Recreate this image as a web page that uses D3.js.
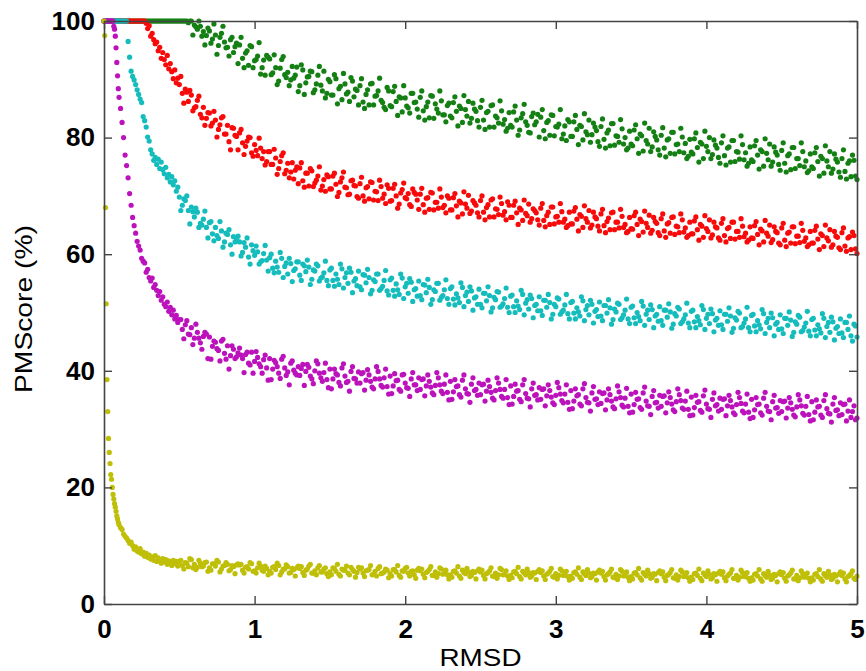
<!DOCTYPE html>
<html>
<head>
<meta charset="utf-8">
<script src="https://d3js.org/d3.v7.min.js"></script>
<style>
  html, body { margin: 0; padding: 0; background: #fff; }
  svg { display: block; }
  text { font-family: Arial, "Liberation Sans", Helvetica, sans-serif; }
</style>
</head>
<body>
<svg id="chart" width="866" height="671"></svg>
<script>
// ---------- data ----------
// sampling grid A of RMSD values (x)
const rmsd = [
  ...d3.range(0, 20).map(i => i * 0.005),
  ...d3.range(10, 50).map(i => i / 100),
  ...d3.range(25, 251).map(i => i / 50)
];
// sampling grid B (in-between samples, 0.51 .. 4.99)
const rmsdB = d3.range(51, 500, 2).map(i => i / 100);

const xTicks = [0, 1, 2, 3, 4, 5];
const yTicks = [0, 20, 40, 60, 80, 100];
const xLabel = "RMSD";
const yLabel = "PMScore (%)";

const pmGreen = [
  100,100,100,100,100,100,100,100,100,100, 100,100,100,100,100,100,100,100,100,100,
  100,100,100,100,100,100,100,100,100,100,
  100,100,100,100,100,100,100,100,100,100,
  100,100,100,100,100,100,100,100,100,100,
  100,100,100,100,100,100,100,100,100,100,
  100,100,100,99.7,100,99.3,98.6,99.1,98.2,97.5,
  98.3,96.9,97.6,95.8,97.9,96.4,95.5,96.8,94.6,96.2,
  95.9,93.6,94.5,92.4,95.6,93.2,94.0,90.9,93.3,94.1,
  93.5,91.1,92.0,89.7,93.4,90.8,91.2,89.9,90.2,92.1,
  88.9,91.6,89.4,90.5,91.3,88.2,90.7,89.0,91.4,87.6,
  89.6,87.3,90.1,88.4,86.5,89.2,87.8,90.3,87.0,88.1,
  88.9,86.1,87.4,85.6,89.3,87.1,88.0,86.4,85.2,88.6,
  85.5,87.9,86.2,87.0,84.4,86.8,85.1,87.6,86.0,84.9,
  86.9,84.6,85.3,83.4,87.1,85.8,84.2,86.3,83.9,85.5,
  83.7,86.0,84.5,85.4,82.6,84.8,86.2,83.3,84.9,82.9,
  85.2,83.0,84.3,81.8,85.6,83.7,82.5,84.6,83.1,81.6,
  82.1,84.4,83.0,81.3,84.1,82.7,80.9,83.6,82.2,84.0,
  83.5,81.2,82.6,80.4,83.8,81.9,82.3,79.8,82.0,83.1,
  80.2,82.7,81.4,82.1,79.6,81.0,83.0,80.5,81.8,79.3,
  81.9,79.7,80.8,78.6,82.4,80.3,79.2,81.5,80.0,78.2,
  78.9,81.3,79.8,80.6,77.7,79.5,81.6,78.4,80.2,77.9,
  80.4,78.2,79.6,77.3,80.9,78.8,77.6,80.1,79.0,76.8,
  77.5,79.8,78.3,79.2,76.4,78.5,80.0,77.1,78.7,76.6,
  79.1,76.9,78.2,75.8,79.5,77.6,76.3,78.8,77.4,75.6,
  76.2,78.6,77.0,77.9,75.1,77.3,78.9,75.8,77.5,75.4,
  77.8,75.6,76.9,74.5,78.3,76.4,75.2,77.6,76.0,74.3,
  75.0,77.4,75.9,76.8,73.9,76.0,77.6,74.6,76.3,74.1,
  76.4,74.2,75.6,73.3,76.1,72.8
];
const pmGreenB = [
  100,100,100,100,97.6,99.0,100,97.4,95.9,98.8,
  96.2,99.5,94.3,97.2,99.1,95.4,94.0,97.2,95.6,92.7,
  97.2,92.0,94.9,95.8,92.0,93.4,96.3,92.0,90.7,93.8,
  90.8,94.2,89.1,91.9,93.9,90.3,88.9,92.2,90.7,87.9,
  92.5,87.4,90.4,91.4,87.7,89.2,92.2,88.0,86.8,90.0,
  87.3,90.8,85.8,88.8,91.0,87.5,86.2,89.7,88.3,85.6,
  90.1,85.0,88.2,89.2,85.6,87.2,90.2,86.0,84.8,88.0,
  85.3,88.8,83.8,86.8,88.9,85.4,84.2,87.6,86.1,83.5,
  88.0,83.0,86.1,87.2,83.3,84.9,88.0,83.9,82.7,85.9,
  83.4,87.0,82.0,85.0,87.2,83.7,82.5,85.9,84.5,81.8,
  86.4,81.4,84.5,85.5,81.8,83.4,86.3,82.3,81.1,84.3,
  81.8,85.4,80.4,83.4,85.7,82.1,80.8,84.2,82.7,80.1,
  84.8,79.8,82.9,83.9,80.3,81.8,84.8,80.6,79.5,82.7,
  80.2,83.8,78.8,81.9,84.1,80.5,79.2,82.5,81.2,78.5,
  83.2,78.2,81.3,82.4,78.7,80.2,83.1,78.9,77.9,81.1,
  78.6,82.2,77.3,80.3,82.5,78.9,77.6,81.0,79.6,77.0,
  81.7,76.7,79.8,80.9,77.2,78.9,81.6,77.4,76.4,79.7,
  77.2,80.8,75.8,78.9,81.1,77.6,76.4,79.6,78.2,75.6,
  80.3,75.3,78.4,79.5,75.9,77.5,80.3,76.2,75.1,78.4,
  75.9,79.5,74.6,77.6,79.8,76.2,75.1,78.4,77.0,74.4,
  79.1,74.1,77.2,78.3,74.7,76.4,79.1,75.0,74.0,77.2,
  74.7,78.3,73.4,76.4,78.6,75.0,73.9,77.2,75.8,73.2,
  77.9,72.9,76.0,77.0,73.4
];

const pmRed = [
  100,100,100,100,100,100,100,100,100,100, 100,100,100,100,100,100,100,100,100,100,
  100,100,100,100,100,100,100,100,100,100,
  100,100,100,100,100,100,100,100,99.6,98.7,
  99.2,97.4,97.9,96.8,96.1,96.4,94.9,95.5,93.6,94.6,
  93.4,92.5,94.1,91.8,92.7,91.3,90.1,91.6,89.4,90.2,
  89.1,87.6,88.3,86.2,87.3,85.1,86.4,84.0,85.2,83.3,
  84.2,82.5,83.0,81.4,83.4,80.6,82.1,77.9,81.6,80.2,
  80.8,79.1,78.5,80.1,77.4,78.8,76.9,78.2,77.6,75.9,
  77.6,75.4,76.5,74.7,76.9,73.8,75.6,74.1,72.9,75.0,
  74.8,72.6,73.9,71.7,74.3,72.2,73.4,71.0,72.8,73.6,
  71.2,73.4,72.0,70.6,73.1,71.5,70.2,72.6,71.8,69.9,
  72.1,70.0,71.4,69.5,72.3,70.8,69.2,71.6,70.3,71.9,
  69.1,71.3,70.0,68.6,71.1,69.7,70.4,68.2,70.6,69.3,
  70.3,68.5,69.6,67.7,70.5,68.9,67.9,69.8,68.4,70.0,
  67.6,69.7,68.3,69.1,66.9,68.6,70.1,67.4,68.8,67.1,
  69.2,67.2,68.0,66.4,69.5,67.8,66.8,68.7,67.3,69.0,
  66.3,68.4,67.1,67.9,65.8,67.0,68.6,66.1,67.5,65.9,
  67.9,65.8,66.6,65.1,68.1,66.4,65.5,67.3,66.0,64.9,
  65.2,67.4,66.0,66.8,64.6,66.1,67.5,65.0,66.4,64.8,
  66.9,64.9,65.6,64.2,67.2,65.5,64.5,66.5,65.1,63.9,
  64.4,66.6,65.1,66.0,63.8,65.3,66.7,64.1,65.6,63.7,
  66.1,64.0,65.2,63.6,66.4,64.8,63.7,65.9,64.5,63.2,
  63.5,65.7,64.2,65.1,62.9,64.4,65.9,63.3,64.7,62.8,
  65.3,63.2,64.4,62.7,65.5,63.9,62.9,64.8,63.6,62.4,
  62.8,64.9,63.4,64.3,62.1,63.6,65.0,62.5,63.9,61.9,
  64.5,62.4,63.6,61.9,64.7,63.1,62.0,64.1,62.8,61.6,
  61.9,64.1,62.6,63.5,61.3,62.8,64.2,61.6,63.1,61.1,
  63.7,61.4,62.8,60.8,63.2,60.1
];
const pmRedB = [
  90.5,85.9,87.8,88.1,84.6,85.3,87.1,83.4,82.1,84.3,
  82.0,84.5,80.1,82.2,83.6,80.6,79.3,81.7,80.4,77.9,
  81.4,77.1,79.4,80.0,76.8,77.8,79.9,76.4,75.3,77.6,
  75.4,78.0,73.7,75.9,77.4,74.4,73.1,75.7,74.4,72.1,
  75.7,71.5,73.9,74.7,71.6,72.7,75.0,71.7,70.8,73.3,
  71.2,73.9,69.9,72.4,74.1,71.4,70.3,72.7,71.7,69.6,
  73.2,69.1,71.6,72.4,69.3,70.7,72.7,69.6,68.7,71.3,
  69.2,72.0,67.9,70.5,72.2,69.5,68.5,71.2,70.3,67.7,
  71.3,67.2,69.7,70.6,67.6,68.9,71.2,68.0,67.1,69.6,
  67.6,70.4,66.4,68.8,70.7,67.9,67.0,69.2,68.4,66.4,
  70.0,65.9,68.5,69.3,66.4,67.7,69.8,66.7,65.9,68.4,
  66.3,69.1,65.1,67.6,69.3,66.6,65.5,67.8,67.1,65.0,
  68.7,64.7,67.2,68.1,65.2,66.5,68.7,65.5,64.6,67.2,
  65.2,68.0,64.0,66.5,68.3,65.5,64.5,67.2,66.1,64.0,
  67.7,63.7,66.2,67.1,64.2,65.5,67.7,64.6,63.7,66.3,
  64.3,67.2,63.2,65.6,67.4,64.6,63.6,66.3,65.3,63.2,
  66.9,62.9,65.4,66.3,63.4,64.7,66.9,63.8,62.9,65.5,
  63.5,66.4,62.4,64.8,66.6,63.9,62.8,65.5,64.5,62.4,
  66.1,62.1,64.6,65.5,62.6,63.9,66.1,63.0,62.1,64.7,
  62.7,65.6,61.6,64.0,65.8,63.1,62.0,64.7,63.7,61.6,
  65.3,61.3,63.8,64.7,61.8,63.1,65.3,62.2,61.3,63.9,
  61.9,64.8,60.8,63.2,65.0,62.3,61.2,63.9,62.9,60.8,
  64.5,60.5,63.0,63.8,60.9
];

const pmCyan = [
  100,100,100,100,100,100,100,100,100,100, 100,100,100,100,100,100,100,100,100,100,
  100,100,100,100,100,100,96.5,93.8,91.4,90.5,
  89.9,89.1,88.2,87.4,86.6,86.0,83.6,82.9,81.8,80.1,
  79.4,77.9,77.2,76.1,76.6,75.4,76.3,74.7,75.8,74.5,
  73.8,74.9,73.1,73.7,72.4,73.3,71.9,72.6,70.8,71.5,
  69.8,68.4,69.2,67.5,68.1,66.4,67.2,65.3,66.0,64.6,
  65.4,63.5,64.6,62.7,64.0,62.1,63.4,61.6,63.0,62.4,
  62.1,60.3,61.2,59.5,61.6,59.8,60.4,58.7,60.1,59.0,
  59.4,57.6,58.8,56.9,59.3,57.9,56.6,58.4,57.2,58.7,
  56.4,58.3,57.0,57.8,55.7,57.1,58.0,55.9,56.8,55.5,
  57.3,55.5,56.6,54.8,57.5,56.0,55.0,56.9,55.4,54.6,
  54.4,56.5,55.1,56.0,53.8,55.3,56.6,54.1,55.5,53.7,
  55.6,53.8,54.9,53.1,55.9,54.4,53.3,55.2,53.9,52.8,
  52.9,54.8,53.4,54.3,52.2,53.6,55.0,52.6,53.9,52.4,
  54.1,52.3,53.2,51.7,54.3,52.9,51.9,53.7,52.5,51.4,
  51.4,53.3,52.0,52.9,50.8,52.2,53.5,51.1,52.4,50.9,
  52.8,51.0,52.0,50.5,53.1,51.6,50.6,52.4,51.2,50.3,
  50.3,52.1,50.9,51.7,49.7,51.0,52.3,50.1,51.3,49.8,
  51.7,49.9,50.8,49.4,52.0,50.5,49.6,51.4,50.2,49.3,
  49.4,51.2,49.9,50.8,48.8,50.1,51.4,49.1,50.4,48.9,
  50.9,49.1,50.0,48.6,51.1,49.7,48.8,50.5,49.4,48.5,
  48.6,50.4,49.2,50.1,48.0,49.4,50.6,48.4,49.6,48.2,
  50.2,48.4,49.3,47.9,50.5,49.0,48.1,49.8,48.7,47.8,
  47.9,49.7,48.5,49.4,47.3,48.7,49.9,47.6,48.9,47.4,
  49.5,47.7,48.6,47.2,49.8,48.3,47.4,49.1,48.0,47.1,
  47.2,49.0,47.8,48.7,46.6,48.0,49.2,46.9,48.2,46.8,
  48.8,47.0,47.9,46.5,49.0,47.6,46.6,48.4,47.3,46.4,
  46.5,48.3,47.1,46.0,48.0,45.8
];
const pmCyanB = [
  67.5,69.5,70.0,65.2,67.3,67.9,64.6,65.0,67.4,62.8,
  65.6,62.3,63.2,65.6,61.2,63.6,64.2,60.0,62.1,63.1,
  59.7,62.0,62.8,58.3,60.6,61.4,58.3,58.9,61.5,57.1,
  60.0,56.8,57.8,60.3,56.0,58.5,59.3,55.3,57.5,58.7,
  55.5,58.0,59.0,54.8,57.3,58.3,55.4,56.1,58.8,54.6,
  57.6,54.5,55.7,58.3,54.2,56.8,57.6,53.4,55.8,57.1,
  53.9,56.4,57.4,53.2,55.6,56.6,53.8,54.5,57.2,53.0,
  55.9,52.8,53.9,56.6,52.4,55.0,55.8,51.9,54.1,55.4,
  52.2,54.7,55.7,51.4,53.9,55.0,52.1,52.9,55.6,51.4,
  54.4,51.3,52.5,55.1,51.0,53.5,54.4,50.4,52.7,54.0,
  50.8,53.3,54.4,50.1,52.6,53.6,50.9,51.5,54.2,50.0,
  53.0,50.0,51.1,53.8,49.6,52.2,53.0,49.1,51.4,52.7,
  49.5,52.1,53.1,48.9,51.4,52.5,49.7,50.4,53.1,48.9,
  51.9,48.9,50.1,52.7,48.6,51.2,52.1,48.2,50.5,51.8,
  48.6,51.2,52.2,48.0,50.6,51.6,48.8,49.6,52.3,48.1,
  51.1,48.1,49.3,51.9,47.8,50.4,51.3,47.4,49.7,51.0,
  47.8,50.4,51.5,47.3,49.8,50.9,48.1,48.9,51.6,47.4,
  50.4,47.4,48.6,51.2,47.1,49.7,50.6,46.7,49.0,50.3,
  47.1,49.7,50.8,46.6,49.1,50.2,47.4,48.2,50.9,46.7,
  49.7,46.7,47.9,50.5,46.4,49.0,49.9,46.0,48.3,49.6,
  46.4,49.0,50.1,45.9,48.4,49.5,46.7,47.5,50.2,46.0,
  49.0,46.0,47.2,49.8,45.7,48.3,49.2,45.3,47.6,48.9,
  45.7,48.3,49.4,45.1,47.7
];

const pmMagenta = [
  100,100,100,100,100,100,100,100,100,100, 100,100,100,99.1,98.6,97.4,95.4,92.9,90.6,88.4,
  86.9,85.0,82.6,80.0,77.0,75.2,73.1,70.4,68.4,66.3,
  64.9,63.6,62.2,61.4,60.7,59.3,58.8,58.5,56.9,57.4,
  56.0,55.4,55.9,54.3,54.8,53.8,52.9,53.6,52.1,52.7,
  51.4,51.0,51.8,50.2,50.9,49.6,50.4,48.9,49.5,48.3,
  48.8,47.1,47.9,46.3,47.4,45.6,46.6,44.8,45.9,46.3,
  45.8,44.2,44.9,43.5,45.1,43.0,44.3,42.6,43.7,42.4,
  43.9,42.1,42.8,41.3,43.2,41.6,42.3,40.7,41.9,40.5,
  42.1,40.3,41.4,39.6,42.0,40.5,39.8,41.3,40.1,39.3,
  39.2,41.1,39.9,40.6,38.6,40.0,41.2,38.8,39.7,38.5,
  40.3,38.6,39.5,38.0,40.5,39.1,38.2,39.9,38.7,37.9,
  37.9,39.7,38.4,39.3,37.2,38.6,39.9,37.5,38.8,37.3,
  39.1,37.4,38.3,36.8,39.3,37.9,37.0,38.6,37.6,36.6,
  36.8,38.6,37.4,38.2,36.2,37.5,38.8,36.5,37.7,36.3,
  38.2,36.4,37.3,35.9,38.4,36.9,36.0,37.7,36.6,35.8,
  35.9,37.7,36.5,37.3,35.3,36.6,37.9,35.6,36.8,35.4,
  37.4,35.6,36.5,35.1,37.6,36.1,35.2,36.9,35.8,35.0,
  35.1,36.9,35.7,36.6,34.5,35.8,37.1,34.9,36.0,34.6,
  36.6,34.8,35.7,34.3,36.9,35.4,34.5,36.2,35.1,34.2,
  34.4,36.2,35.0,35.9,33.8,35.2,36.4,34.1,35.3,33.9,
  36.0,34.2,35.1,33.7,36.2,34.8,33.9,35.6,34.5,33.6,
  33.9,35.7,34.5,35.4,33.3,34.7,35.9,33.6,34.8,33.4,
  35.5,33.7,34.6,33.2,35.7,34.3,33.4,35.1,34.0,33.1,
  33.4,35.2,34.0,34.9,32.8,34.2,35.4,33.1,34.3,32.9,
  35.1,33.3,34.2,32.8,35.3,33.9,33.0,34.7,33.6,32.7,
  33.0,34.8,33.6,34.5,32.4,33.8,35.0,32.7,33.9,32.5,
  34.7,32.9,33.8,32.4,34.9,33.5,32.6,34.3,33.2,32.3,
  32.5,34.3,33.1,32.0,34.0,31.9
];
const pmMagentaB = [
  48.8,45.5,48.6,46.2,44.5,48.0,45.6,43.7,46.6,42.1,
  42.0,45.1,43.8,41.7,45.4,42.0,40.3,44.3,42.1,43.1,
  42.7,39.7,43.2,41.0,39.6,43.3,41.2,39.6,42.7,38.4,
  38.5,41.8,40.7,38.7,42.5,39.2,37.6,41.7,39.6,40.7,
  40.4,37.5,41.1,39.1,37.8,41.7,39.6,38.2,41.3,37.1,
  36.9,40.3,39.3,37.4,41.2,38.0,36.5,40.7,38.6,39.8,
  39.5,36.7,40.2,38.2,36.9,40.7,38.6,37.2,40.3,36.0,
  36.1,39.5,38.4,36.5,39.4,37.1,35.6,39.7,37.6,38.8,
  38.5,35.7,39.3,37.2,35.9,39.7,37.6,36.1,39.3,35.0,
  35.1,38.5,37.4,35.5,39.3,36.1,34.6,38.8,36.8,37.9,
  37.6,34.8,38.4,36.3,35.0,38.8,36.8,35.3,38.5,34.2,
  34.3,37.7,36.6,34.7,38.5,35.3,33.8,37.9,35.9,37.1,
  36.8,34.0,37.6,35.5,34.2,38.0,36.0,34.5,37.6,33.4,
  33.5,36.9,35.9,34.0,37.8,34.6,33.1,37.3,35.2,36.4,
  36.1,33.3,36.9,34.8,33.5,37.4,35.4,33.8,37.0,32.8,
  32.9,36.3,35.2,33.4,37.2,34.0,32.5,36.6,34.6,35.8,
  35.6,32.8,36.4,34.3,33.0,36.9,34.9,33.4,36.5,32.3,
  32.4,35.8,34.7,32.9,36.7,33.5,32.0,36.2,34.2,35.3,
  35.1,32.3,35.8,33.8,32.5,36.3,34.4,32.8,36.0,31.8,
  32.0,35.4,34.3,32.4,36.3,33.1,31.6,35.8,33.7,34.9,
  34.7,31.9,35.4,33.4,32.1,35.9,34.0,32.4,35.6,31.4,
  31.6,35.0,33.9,32.0,35.9,32.7,31.2,35.4,33.3,34.5,
  34.2,31.4,35.0,33.0,31.6
];

const pmYellow = [
  100,97.5,68,51.5,38.5,33,28.4,26,24.1,22.2, 21.4,20,18.8,18,17.2,16.6,15.9,15.1,14.6,14.0,
  13.6,13.1,12.8,12.0,11.6,11.3,10.9,10.4,10.6,10.0,
  9.4,9.8,9.1,8.9,9.5,8.6,8.9,8.2,8.7,8.0,
  8.4,7.7,8.1,7.5,8.3,7.3,7.9,7.4,7.0,7.8,
  7.2,7.6,6.8,7.4,7.1,6.6,7.5,6.9,7.3,6.5,
  7.3,6.6,7.1,6.4,7.6,6.8,6.3,7.0,6.5,7.2,
  6.2,6.9,6.5,7.2,6.0,6.6,6.8,5.9,6.4,6.7,
  6.7,5.8,6.3,6.0,6.9,5.7,6.2,6.5,5.6,6.1,
  5.6,6.3,5.9,6.6,5.5,6.0,6.4,5.4,5.9,6.2,
  6.1,5.4,5.8,6.5,5.3,5.7,6.2,5.5,6.0,5.2,
  5.5,6.2,5.6,5.1,6.0,5.8,5.3,6.3,5.6,5.4,
  6.0,5.3,5.7,5.9,5.0,5.6,6.1,5.2,5.5,5.8,
  5.2,5.9,5.5,4.9,5.7,6.1,5.3,5.6,5.0,5.8,
  5.7,5.1,5.4,5.9,4.9,5.5,5.2,6.0,5.3,5.0,
  5.0,5.6,5.3,4.8,5.8,5.2,5.5,4.9,5.4,5.7,
  5.5,4.9,5.2,5.7,4.8,5.3,5.0,5.9,5.1,4.8,
  4.9,5.5,5.2,4.7,5.6,5.0,5.4,4.8,5.3,5.6,
  5.4,4.8,5.1,5.6,4.7,5.2,4.9,5.7,5.0,4.7,
  4.8,5.4,5.1,4.6,5.5,4.9,5.3,4.7,5.2,5.5,
  5.3,4.7,5.0,5.5,4.6,5.1,4.8,5.6,4.9,4.6,
  4.7,5.3,5.0,4.5,5.4,4.8,5.2,4.6,5.1,5.4,
  5.2,4.6,4.9,5.4,4.5,5.0,4.7,5.5,4.8,4.5,
  4.6,5.2,4.9,4.4,5.3,4.7,5.1,4.5,5.0,5.3,
  5.1,4.5,4.8,5.3,4.4,4.9,4.6,5.4,4.7,4.4,
  4.5,5.1,4.8,4.3,5.2,4.6,5.0,4.4,4.9,5.2,
  5.0,4.4,4.8,5.3,4.3,4.9,4.5,5.2,4.7,4.4,
  4.5,5.1,4.7,4.3,5.2,4.6,5.0,4.4,4.8,5.1,
  4.9,4.3,4.7,5.2,4.4,4.8
];
const pmYellowB = [
  7.5,6.0,7.0,7.8,6.2,5.9,7.5,6.4,7.1,5.6,
  5.8,6.9,7.5,5.5,6.5,7.1,5.7,6.6,5.2,6.9,
  6.8,5.3,6.4,7.1,5.6,5.3,7.0,5.8,6.5,5.0,
  5.3,6.4,7.0,5.0,6.0,6.7,5.3,6.1,4.8,6.5,
  6.4,4.9,6.0,6.8,5.3,5.0,6.6,5.5,6.2,4.7,
  5.0,6.1,6.8,4.8,5.8,6.5,5.0,5.9,4.6,6.3,
  6.2,4.7,5.8,6.6,5.1,4.8,6.4,5.3,6.0,4.5,
  4.8,5.9,6.6,4.6,5.6,6.3,4.8,5.7,4.4,6.1,
  6.0,4.5,5.6,6.4,4.9,4.6,6.2,5.1,5.8,4.3,
  4.6,5.7,6.4,4.4,5.4,6.1,4.7,5.6,4.3,6.0,
  5.8,4.3,5.4,6.2,4.7,4.4,6.1,5.0,5.7,4.2,
  4.5,5.6,6.3,4.3,5.3,6.0,4.6,5.4,4.2,5.9,
  5.7,4.2,5.3,6.1,4.6,4.3,6.0,4.9,5.6,4.1,
  4.4,5.5,6.2,4.2,5.2,5.9,4.5,5.3,4.1,5.8,
  5.6,4.1,5.2,6.0,4.5,4.2,5.9,4.8,5.5,4.0,
  4.3,5.4,6.1,4.1,5.1,5.8,4.4,5.2,4.0,5.7,
  5.5,4.0,5.1,5.9,4.4,4.1,5.8,4.7,5.4,3.9,
  4.2,5.3,6.0,4.0,5.0,5.7,4.3,5.2,3.9,5.6,
  5.5,4.0,5.1,5.9,4.4,4.1,5.8,4.7,5.4,3.9,
  4.1,5.2,5.9,3.9,4.9,5.6,4.2,5.1,3.8,5.5,
  5.4,3.9,5.0,5.8,4.3,4.0,5.7,4.6,5.3,3.8,
  4.1,5.2,5.9,3.9,4.9,5.6,4.2,5.1,3.8,5.5,
  5.3,3.8,4.9,5.7,4.2
];

const seriesNames = ["green", "red", "cyan", "magenta", "yellow"];
const seriesColors = ["#148014", "#f80a0a", "#14bcbc", "#bc12bc", "#bfbf08"];
const seriesValues = [pmGreen, pmRed, pmCyan, pmMagenta, pmYellow];
const seriesValuesB = [pmGreenB, pmRedB, pmCyanB, pmMagentaB, pmYellowB];

// ---------- chart ----------
(function () {
  const svg = d3.select("#chart");
  const mLeft = 104, mRight = 857, mTop = 21, mBottom = 604;

  const x = d3.scaleLinear().domain([0, 5]).range([mLeft, mRight]);
  const y = d3.scaleLinear().domain([0, 100]).range([mBottom, mTop]);

  const axisColor = "#444";

  // points
  seriesValues.forEach((vals, si) => {
    const nA = Math.min(vals.length, rmsd.length);
    const valsB = seriesValuesB[si];
    const nB = Math.min(valsB.length, rmsdB.length);
    const pts = d3.range(nA).map(i => ({ x: rmsd[i], y: vals[i] }))
      .concat(d3.range(nB).map(i => ({ x: rmsdB[i], y: valsB[i] })));
    svg.append("g")
      .attr("class", "series-" + seriesNames[si])
      .selectAll("circle")
      .data(pts)
      .join("circle")
      .attr("cx", d => x(d.x))
      .attr("cy", d => y(d.y))
      .attr("r", 2.6)
      .attr("fill", seriesColors[si]);
  });

  function styleAxis(g) {
    g.selectAll("path.domain").attr("stroke", axisColor).attr("stroke-width", 1.6);
    g.selectAll(".tick line").attr("stroke", axisColor).attr("stroke-width", 1.4);
    g.selectAll("text")
      .attr("fill", "#000")
      .style("font-size", "26px")
      .style("font-weight", "bold")
      .style("font-family", "Arial, 'Liberation Sans', Helvetica, sans-serif");
  }

  // bottom axis
  svg.append("g")
    .attr("transform", `translate(0,${mBottom})`)
    .call(d3.axisBottom(x).tickValues(xTicks).tickFormat(d3.format("d"))
      .tickSizeInner(-8).tickSizeOuter(0).tickPadding(16))
    .call(styleAxis);

  // top axis (no labels)
  svg.append("g")
    .attr("transform", `translate(0,${mTop})`)
    .call(d3.axisTop(x).tickValues(xTicks).tickFormat("")
      .tickSizeInner(-8).tickSizeOuter(0))
    .call(styleAxis);

  // left axis
  svg.append("g")
    .attr("transform", `translate(${mLeft},0)`)
    .call(d3.axisLeft(y).tickValues(yTicks).tickFormat(d3.format("d"))
      .tickSizeInner(-8).tickSizeOuter(0).tickPadding(9))
    .call(styleAxis);

  // right axis (no labels)
  svg.append("g")
    .attr("transform", `translate(${mRight},0)`)
    .call(d3.axisRight(y).tickValues(yTicks).tickFormat("")
      .tickSizeInner(-8).tickSizeOuter(0))
    .call(styleAxis);

  // axis labels
  svg.append("text")
    .attr("x", (mLeft + mRight) / 2)
    .attr("y", 666)
    .attr("text-anchor", "middle")
    .attr("textLength", 82)
    .attr("lengthAdjust", "spacingAndGlyphs")
    .style("font-size", "24px")
    .attr("fill", "#000")
    .text(xLabel);

  svg.append("text")
    .attr("transform", `translate(32,309) rotate(-90)`)
    .attr("text-anchor", "middle")
    .attr("textLength", 168)
    .attr("lengthAdjust", "spacingAndGlyphs")
    .style("font-size", "24px")
    .attr("fill", "#000")
    .text(yLabel);
})();
</script>
</body>
</html>
